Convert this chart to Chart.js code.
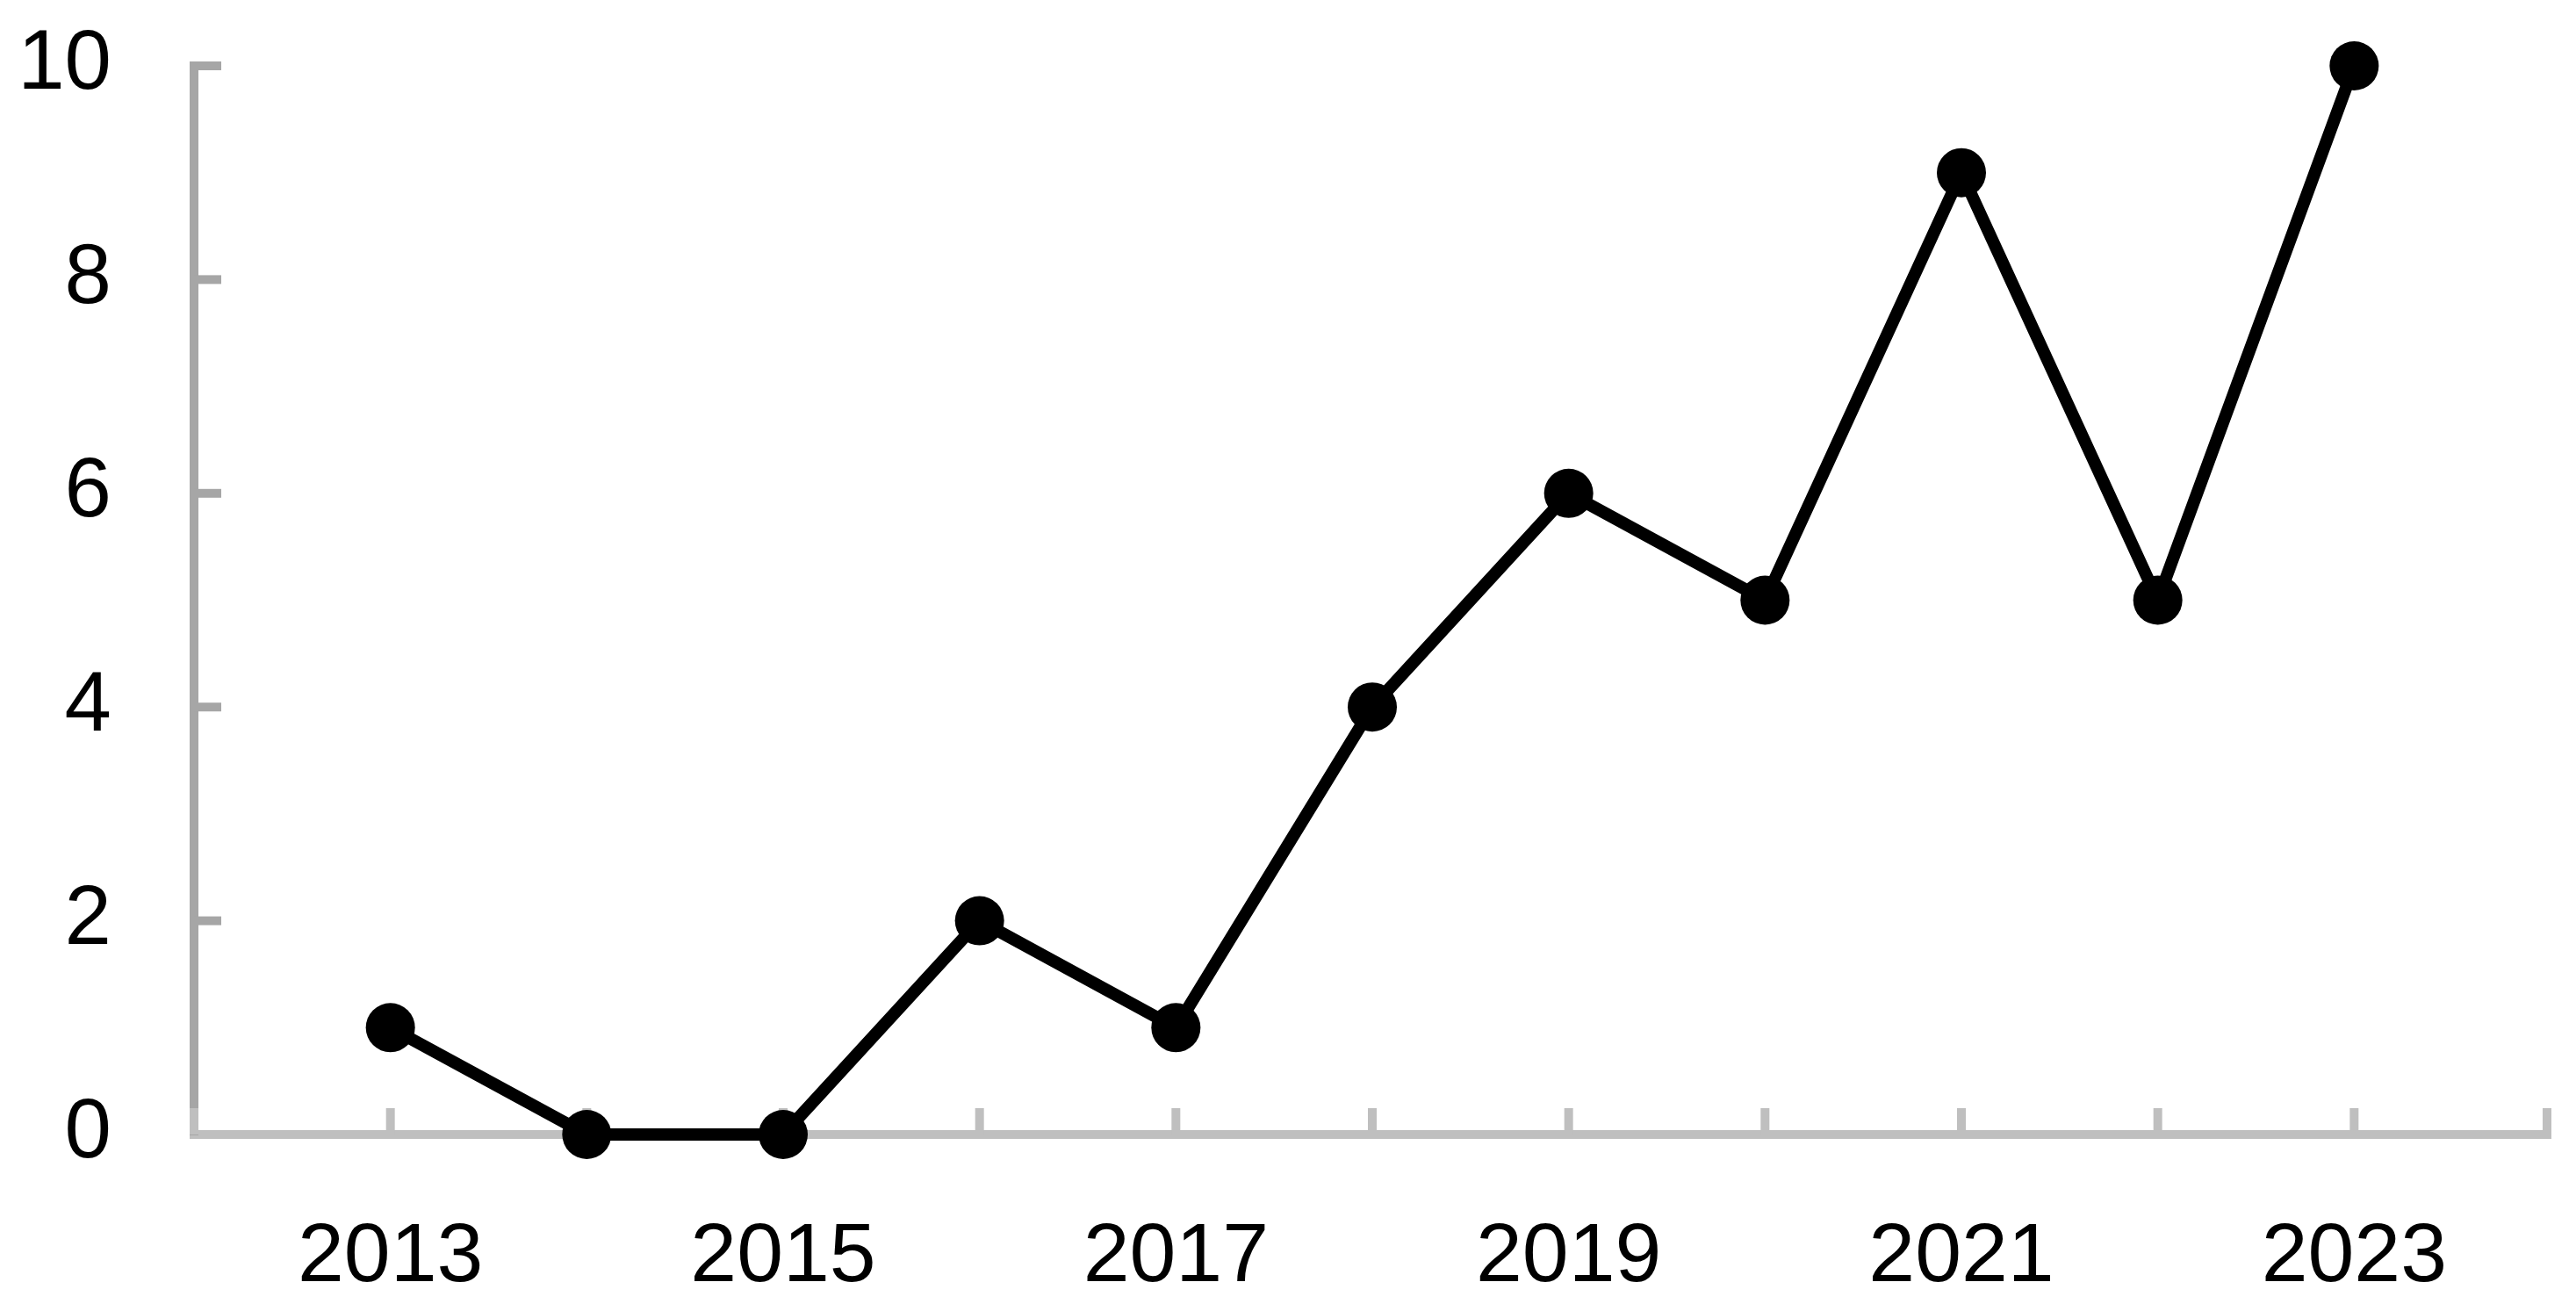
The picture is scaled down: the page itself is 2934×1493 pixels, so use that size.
<!DOCTYPE html>
<html>
<head>
<meta charset="utf-8">
<script src="https://cdn.jsdelivr.net/npm/chart.js@4/dist/chart.umd.min.js"></script>
<style>
html,body{margin:0;padding:0;background:#fff;}
#wrap{position:absolute;left:0;top:0;width:2934px;height:1493px;}
</style>
</head>
<body>
<div id="wrap"><canvas id="c" width="2934" height="1493"></canvas></div>
<script>
const years = [2013, 2014, 2015, 2016, 2017, 2018, 2019, 2020, 2021, 2022, 2023];
const counts = [1, 0, 0, 2, 1, 4, 6, 5, 9, 5, 10];
const xLabelYears = [2013, 2015, 2017, 2019, 2021, 2023];
const yTicks = [0, 2, 4, 6, 8, 10];

const FONT = "'Liberation Sans', Arial, sans-serif";

const innerTicks = {
  id: 'innerTicks',
  beforeDatasetsDraw(chart) {
    const ctx = chart.ctx;
    const xs = chart.scales.x, ys = chart.scales.y;
    const ca = chart.chartArea;
    ctx.save();
    ctx.lineCap = 'butt';
    // x ticks pointing up
    ctx.strokeStyle = '#bfbfbf';
    ctx.lineWidth = 10;
    for (let v = xs.min; v <= xs.max; v++) {
      let px = xs.getPixelForValue(v);
      if (v === xs.max) px -= 4;
      ctx.beginPath();
      ctx.moveTo(px, ca.bottom);
      ctx.lineTo(px, ca.bottom - 30);
      ctx.stroke();
    }
    // y ticks pointing right
    ctx.strokeStyle = '#a6a6a6';
    yTicks.forEach(v => {
      if (v === 0) return;
      const py = ys.getPixelForValue(v);
      ctx.beginPath();
      ctx.moveTo(ca.left, py);
      ctx.lineTo(ca.left + 31, py);
      ctx.stroke();
    });
    ctx.restore();
  }
};

new Chart(document.getElementById('c'), {
  type: 'line',
  data: {
    datasets: [{
      data: years.map((y, i) => ({x: y, y: counts[i]})),
      borderColor: '#000',
      backgroundColor: '#000',
      borderWidth: 14,
      pointRadius: 28,
      pointBorderWidth: 0,
      pointBackgroundColor: '#000',
      tension: 0,
      clip: false
    }]
  },
  options: {
    responsive: false,
    animation: false,
    events: [],
    layout: { padding: { top: 75, right: 29, left: 0, bottom: 0 } },
    plugins: { legend: { display: false }, tooltip: { enabled: false } },
    scales: {
      x: {
        type: 'linear',
        min: 2012,
        max: 2024,
        afterFit(s) { s.height = 201; s.paddingLeft = 0; s.paddingRight = 0; },
        grid: { display: true, drawOnChartArea: false, drawTicks: false, color: 'rgba(0,0,0,0)' },
        border: { display: true, color: '#bfbfbf', width: 10 },
        ticks: {
          stepSize: 1,
          autoSkip: false,
          maxRotation: 0,
          padding: 84,
          color: '#000',
          font: { family: FONT, size: 95 },
          callback: (v) => xLabelYears.includes(v) ? String(v) : ''
        }
      },
      y: {
        min: 0,
        max: 10,
        afterFit(s) { s.width = 221; s.paddingTop = 0; s.paddingBottom = 0; },
        grid: { display: true, drawOnChartArea: false, drawTicks: false, color: 'rgba(0,0,0,0)' },
        border: { display: true, color: '#a6a6a6', width: 10 },
        ticks: {
          stepSize: 2,
          padding: 94,
          color: '#000',
          font: { family: FONT, size: 96 },
          callback: (v) => yTicks.includes(v) ? String(v) : ''
        }
      }
    }
  },
  plugins: [innerTicks]
});
</script>
</body>
</html>
